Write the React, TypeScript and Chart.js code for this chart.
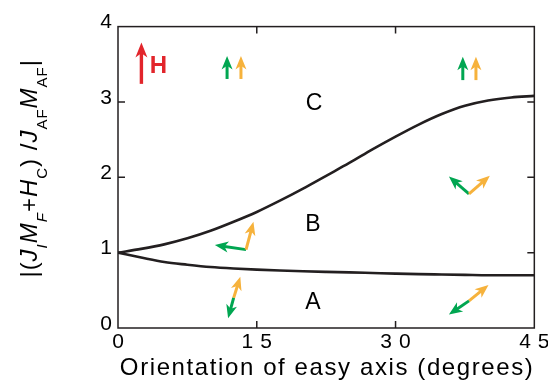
import React, { useEffect, useRef } from 'react';
import { Chart, registerables } from 'chart.js';

Chart.register(...registerables);

// ---- data ----
const angles = [0, 2.5, 5, 7.5, 10, 12.5, 15, 17.5, 20, 22.5, 25, 27.5, 30, 32.5, 35, 37.5, 40, 42.5, 45];
const upperCurve = [1.0, 1.05, 1.11, 1.19, 1.29, 1.41, 1.54, 1.69, 1.85, 2.02, 2.19, 2.37, 2.54, 2.70, 2.84, 2.95, 3.02, 3.06, 3.08];
const lowerCurve = [1.0, 0.935, 0.875, 0.84, 0.81, 0.79, 0.775, 0.763, 0.753, 0.745, 0.738, 0.73, 0.722, 0.715, 0.71, 0.705, 0.70, 0.70, 0.70];

const xTickValues = [0, 15, 30, 45];
const yTickValues = [0, 1, 2, 3, 4];

const xTitle = 'Orientation of easy axis (degrees)';
// y-axis title pieces: [text, style]  n = normal, i = italic, s = subscript, si = italic subscript
const yTitleParts: [string, string][] = [
  ['|(', 'n'], ['J', 'i'], ['I', 'si'], ['M', 'i'], ['F', 'si'], ['+', 'n'], ['H', 'i'], ['C', 's'],
  [')', 'n'], [' /', 'n'], ['J', 'i'], ['AF', 's'], ['M', 'i'], ['AF', 's'], ['|', 'n'],
];

// region labels (data coordinates)
const regionLabels: [string, number, number][] = [
  ['C', 21.2, 2.98],
  ['B', 21.06, 1.37],
  ['A', 21.06, 0.34],
];

// field arrow (data coordinates)
const fieldArrow = { x0: 2.53, y0: 3.24, x1: 2.53, y1: 3.79, label: 'H', lx: 3.42, ly: 3.47 };

// magnetisation arrows: [x0, y0, x1, y1, kind]
const momentArrows: [number, number, number, number, string][] = [
  [11.79, 3.305, 11.79, 3.61, 'g'],
  [13.29, 3.305, 13.29, 3.61, 'o'],
  [37.27, 3.29, 37.27, 3.6, 'g'],
  [38.69, 3.29, 38.69, 3.6, 'o'],
  [37.94, 1.78, 35.77, 2.01, 'g'],
  [37.94, 1.78, 40.19, 2.02, 'o'],
  [13.84, 1.04, 10.47, 1.10, 'g'],
  [13.84, 1.04, 14.64, 1.41, 'o'],
  [12.5, 0.40, 13.22, 0.68, 'o'],
  [12.5, 0.40, 11.9, 0.13, 'g'],
  [37.94, 0.36, 40.05, 0.57, 'o'],
  [37.94, 0.36, 35.77, 0.18, 'g'],
];

const FONT = "'Liberation Sans', Arial, Helvetica, sans-serif";
const INK = '#231f20';
const GREEN = '#00a651';
const ORANGE = '#f6b23c';
const RED = '#e2252b';

function drawArrow(ctx: CanvasRenderingContext2D, x0: number, y0: number, x1: number, y1: number,
  color: string, shaftW: number, headLen: number, headHalf: number) {
  const ang = Math.atan2(y1 - y0, x1 - x0);
  const len = Math.hypot(x1 - x0, y1 - y0);
  ctx.save();
  ctx.translate(x0, y0);
  ctx.rotate(ang);
  ctx.fillStyle = color;
  ctx.fillRect(0, -shaftW / 2, len - headLen * 0.6, shaftW);
  ctx.beginPath();
  ctx.moveTo(len, 0);
  ctx.lineTo(len - headLen, -headHalf);
  ctx.lineTo(len - headLen * 0.72, 0);
  ctx.lineTo(len - headLen, headHalf);
  ctx.closePath();
  ctx.fill();
  ctx.restore();
}

const decorPlugin = {
  id: 'decor',
  afterDatasetsDraw(chart: any) {
    // x tick labels (drawn next, in a higher layer) are letter-spaced
    chart.ctx.letterSpacing = '7px';
  },
  afterDraw(chart: any) {
    const ctx: CanvasRenderingContext2D = chart.ctx;
    (ctx as any).letterSpacing = '0px';
    const { left, right, top, bottom } = chart.chartArea;
    const xs = chart.scales.x;
    const ys = chart.scales.y;
    const TICK = 7;
    ctx.save();
    // frame
    ctx.strokeStyle = INK;
    ctx.lineWidth = 1.5;
    ctx.strokeRect(left, top, right - left, bottom - top);
    ctx.beginPath();
    xs.ticks.forEach((t: any) => {
      if (t.value <= xs.min || t.value >= xs.max) return;
      const px = xs.getPixelForValue(t.value);
      ctx.moveTo(px, bottom); ctx.lineTo(px, bottom - TICK);
      ctx.moveTo(px, top); ctx.lineTo(px, top + TICK);
    });
    ys.ticks.forEach((t: any) => {
      if (t.value <= ys.min || t.value >= ys.max) return;
      const py = ys.getPixelForValue(t.value);
      ctx.moveTo(left, py); ctx.lineTo(left + TICK, py);
      ctx.moveTo(right, py); ctx.lineTo(right - TICK, py);
    });
    ctx.stroke();

    // field arrow + label
    drawArrow(ctx, xs.getPixelForValue(fieldArrow.x0), ys.getPixelForValue(fieldArrow.y0),
      xs.getPixelForValue(fieldArrow.x1), ys.getPixelForValue(fieldArrow.y1), RED, 3.4, 15, 6);
    ctx.fillStyle = RED;
    ctx.font = `bold 24px ${FONT}`;
    ctx.textAlign = 'left';
    ctx.textBaseline = 'middle';
    ctx.fillText(fieldArrow.label, xs.getPixelForValue(fieldArrow.lx), ys.getPixelForValue(fieldArrow.ly));

    // moment arrows
    momentArrows.forEach(([a, b, c, d, k]) => {
      drawArrow(ctx, xs.getPixelForValue(a), ys.getPixelForValue(b), xs.getPixelForValue(c), ys.getPixelForValue(d),
        k === 'g' ? GREEN : ORANGE, 3, 13.5, 5.5);
    });

    // region labels
    ctx.fillStyle = '#000';
    ctx.font = `23px ${FONT}`;
    ctx.textAlign = 'center';
    ctx.textBaseline = 'middle';
    regionLabels.forEach(([t, x, y]) => {
      ctx.fillText(t, xs.getPixelForValue(x), ys.getPixelForValue(y));
    });

    // x title
    (ctx as any).letterSpacing = '1.6px';
    ctx.font = `24px ${FONT}`;
    ctx.textBaseline = 'alphabetic';
    ctx.textAlign = 'center';
    ctx.fillText(xTitle, (left + right) / 2 + 1, 367);
    (ctx as any).letterSpacing = '0px';

    // y title (rotated)
    const fontOf = (s: string) => {
      const sub = s.indexOf('s') >= 0;
      const it = s.indexOf('i') >= 0;
      return `${it ? 'italic ' : ''}${sub ? 15 : 24}px ${FONT}`;
    };
    (ctx as any).letterSpacing = '1px';
    let total = 0;
    yTitleParts.forEach(([t, s]) => { ctx.font = fontOf(s); total += ctx.measureText(t).width; });
    ctx.translate(28.5, (top + bottom) / 2 - 9);
    ctx.rotate(-Math.PI / 2);
    ctx.textAlign = 'left';
    ctx.textBaseline = 'alphabetic';
    ctx.fillStyle = '#000';
    let cx = -total / 2;
    yTitleParts.forEach(([t, s]) => {
      ctx.font = fontOf(s);
      const sub = s.indexOf('s') >= 0;
      ctx.fillText(t, cx, sub ? 10 : 0);
      cx += ctx.measureText(t).width;
    });
    (ctx as any).letterSpacing = '0px';
    ctx.restore();
  },
};

export default function App() {
  const ref = useRef<HTMLCanvasElement>(null);
  useEffect(() => {
    if (!ref.current) return;
    const chart = new Chart(ref.current, {
      type: 'line',
      data: {
        datasets: [
          {
            label: 'upper',
            data: angles.map((a, i) => ({ x: a, y: upperCurve[i] })),
            borderColor: INK,
            borderWidth: 2.6,
            pointRadius: 0,
            cubicInterpolationMode: 'monotone',
            fill: false,
          },
          {
            label: 'lower',
            data: angles.map((a, i) => ({ x: a, y: lowerCurve[i] })),
            borderColor: INK,
            borderWidth: 2.6,
            pointRadius: 0,
            cubicInterpolationMode: 'monotone',
            fill: false,
          },
        ],
      },
      options: {
        animation: false,
        responsive: true,
        maintainAspectRatio: false,
        layout: { padding: { top: 14, right: 9, left: 0, bottom: 0 } },
        plugins: { legend: { display: false }, tooltip: { enabled: false } },
        scales: {
          x: {
            type: 'linear',
            min: 0,
            max: 45,
            afterBuildTicks: (s: any) => { s.ticks = xTickValues.map((v) => ({ value: v })); },
            afterFit: (s: any) => { s.height = 52; },
            grid: { display: false, drawTicks: false },
            border: { display: false },
            ticks: { z: 1, color: '#000', font: { family: FONT, size: 21 }, padding: 2, labelOffset: 3.5, maxRotation: 0 },
          },
          y: {
            type: 'linear',
            min: 0,
            max: 4,
            afterBuildTicks: (s: any) => { s.ticks = yTickValues.map((v) => ({ value: v })); },
            afterFit: (s: any) => { s.width = 110; },
            grid: { display: false, drawTicks: false },
            border: { display: false },
            ticks: { color: '#000', font: { family: FONT, size: 21 }, padding: 6, labelOffset: -4 },
          },
        },
      },
      plugins: [decorPlugin],
    } as any);
    return () => chart.destroy();
  }, []);
  return (
    <div style={{ position: 'relative', width: 540, height: 372 }}>
      <canvas ref={ref} />
    </div>
  );
}
